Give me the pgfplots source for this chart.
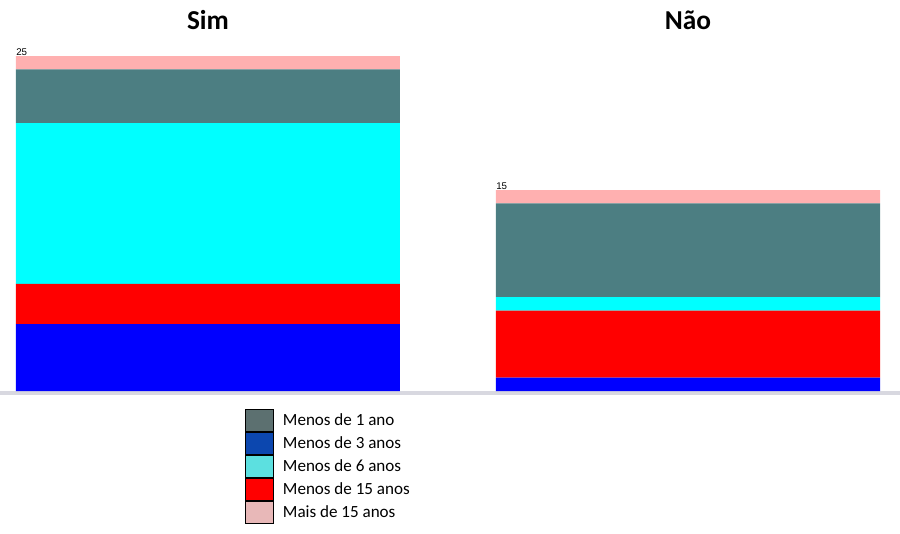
\documentclass[border=0pt]{standalone}
\usepackage{pgfplots}
\pgfplotsset{compat=1.18}
\usepackage{fontspec}
\setmainfont{Carlito}
\newfontfamily\labfont{Liberation Sans}

% bar colours
\definecolor{cUm}{HTML}{4C7E82}
\definecolor{cTres}{HTML}{0000FF}
\definecolor{cSeis}{HTML}{00FFFF}
\definecolor{cQuinze}{HTML}{FF0000}
\definecolor{cMais}{HTML}{FFB0B0}
% legend colours (lighter/different in the original)
\definecolor{lUm}{HTML}{5C7070}
\definecolor{lTres}{HTML}{0C47AF}
\definecolor{lSeis}{HTML}{5CE0E0}
\definecolor{lQuinze}{HTML}{FF0000}
\definecolor{lMais}{HTML}{E8B8B8}
\definecolor{baseline}{HTML}{D8D8E0}

\pgfplotsset{
  myleg/.style={legend image code/.code={%
    \draw[##1,draw=black,line width=0.75pt] (0pt,-8.25pt) rectangle (21pt,8.25pt);}},
}

\begin{document}
\begin{tikzpicture}
\useasboundingbox (0,0) rectangle (675pt,399.75pt);
\begin{axis}[
  at={(0pt,105pt)}, anchor=south west,
  scale only axis,
  width=675pt, height=282.9pt,
  ybar stacked,
  bar width=0.8,
  xmin=-0.4333, xmax=1.44167,
  ymin=-0.149, ymax=28,
  axis x line*=bottom,
  axis y line=none,
  x axis line style={-, draw=baseline, line width=3pt},
  xtick=\empty, ytick=\empty,
  clip=false,
  legend style={
    at={(0.2722,-0.0421)}, anchor=north west,
    draw=none, fill=none, inner sep=0pt,
    row sep=0pt, column sep=6.5pt,
    nodes={inner sep=0pt},
    font=\fontsize{12.8}{14}\selectfont,
    cells={anchor=west},
  },
  legend cell align=left,
]
\addlegendimage{myleg, fill=lUm}
\addlegendimage{myleg, fill=lTres}
\addlegendimage{myleg, fill=lSeis}
\addlegendimage{myleg, fill=lQuinze}
\addlegendimage{myleg, fill=lMais}

% stacked from bottom: 3 anos, 15 anos, 6 anos, 1 ano, mais de 15
\addplot[forget plot, draw=none, fill=cTres] coordinates {(0,5) (1,1)};
\addplot[forget plot, draw=none, fill=cQuinze] coordinates {(0,3) (1,5)};
\addplot[forget plot, draw=none, fill=cSeis] coordinates {(0,12) (1,1)};
\addplot[forget plot, draw=none, fill=cUm] coordinates {(0,4) (1,7)};
\addplot[forget plot, draw=none, fill=cMais,
  point meta=explicit symbolic,
  nodes near coords,
  every node near coord/.append style={anchor=south west, inner sep=0pt,
    xshift=-144pt, yshift=5.5pt, font=\labfont\fontsize{7.3}{8}\selectfont},
] coordinates {(0,1) [25] (1,1) [15]};

\legend{Menos de 1 ano, Menos de 3 anos, Menos de 6 anos, Menos de 15 anos, Mais de 15 anos}

\node[font=\bfseries\fontsize{20.5}{22}\selectfont, anchor=base] at (axis cs:0,27.0) {Sim};
\node[font=\bfseries\fontsize{20.5}{22}\selectfont, anchor=base] at (axis cs:1,27.0) {Não};
\end{axis}
\end{tikzpicture}
\end{document}
